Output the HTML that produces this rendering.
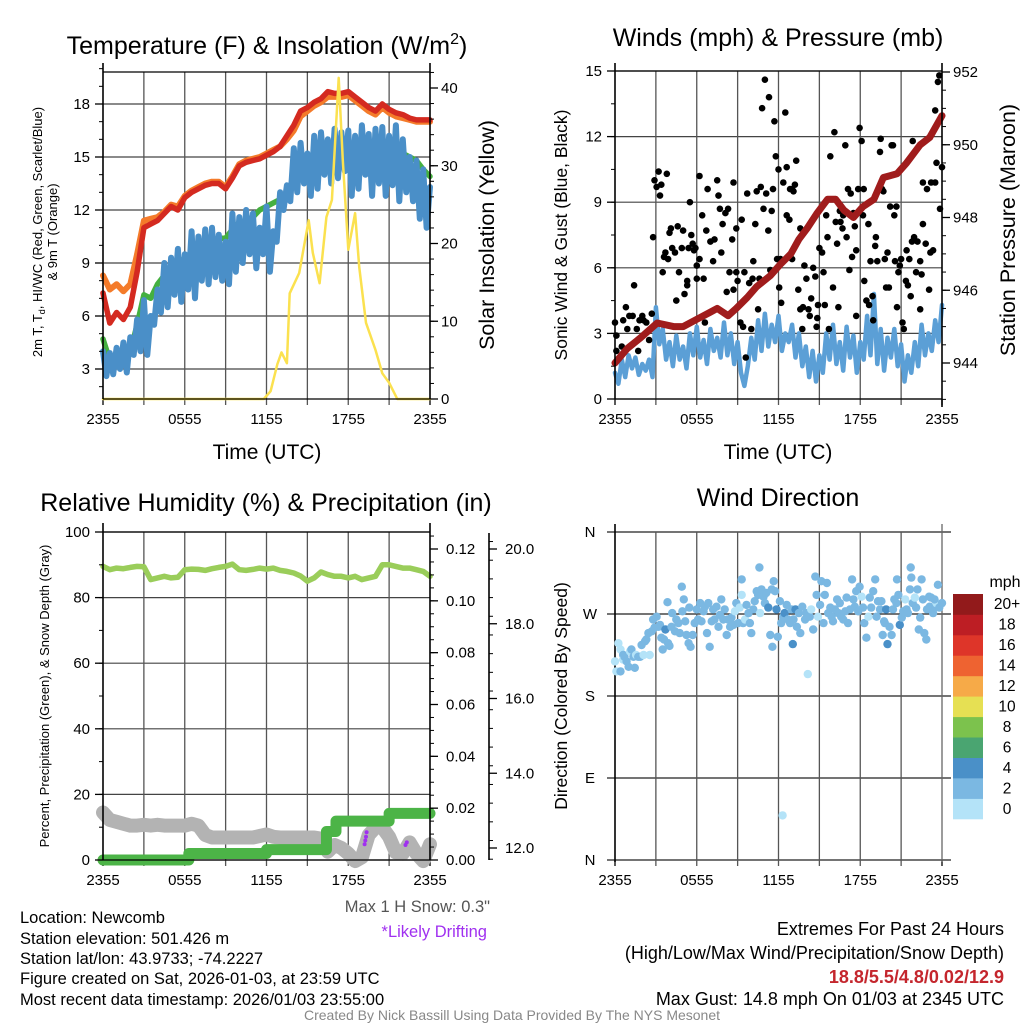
<!DOCTYPE html>
<html><head><meta charset="utf-8">
<style>
html,body{margin:0;padding:0;background:#fff;}
svg{display:block;font-family:"Liberation Sans",Arial,sans-serif;}
</style></head>
<body>
<svg id="fig" width="1024" height="1024" viewBox="0 0 1024 1024" xmlns="http://www.w3.org/2000/svg">
<rect x="0" y="0" width="1024" height="1024" fill="#fff"/>
<text x="267" y="54" font-size="25" text-anchor="middle">Temperature (F) &amp; Insolation (W/m<tspan font-size="16" dy="-10">2</tspan><tspan dy="10">)</tspan></text>
<text x="778" y="46" font-size="25" text-anchor="middle">Winds (mph) &amp; Pressure (mb)</text>
<text x="266" y="511" font-size="25" text-anchor="middle">Relative Humidity (%) &amp; Precipitation (in)</text>
<text x="778" y="506" font-size="25" text-anchor="middle">Wind Direction</text>
<text x="267" y="459" font-size="21" text-anchor="middle">Time (UTC)</text>
<text x="778" y="459" font-size="21" text-anchor="middle">Time (UTC)</text>
<text transform="translate(42,232) rotate(-90)" font-size="13" text-anchor="middle">2m T, T<tspan font-size="9" dy="3">d</tspan><tspan dy="-3">, HI/WC (Red, Green, Scarlet/Blue)</tspan></text>
<text transform="translate(57,232) rotate(-90)" font-size="13" text-anchor="middle">&amp; 9m T (Orange)</text>
<text transform="translate(494,235) rotate(-90)" font-size="21.5" text-anchor="middle">Solar Insolation (Yellow)</text>
<text transform="translate(567,235) rotate(-90)" font-size="17.5" text-anchor="middle">Sonic Wind &amp; Gust (Blue, Black)</text>
<text transform="translate(1015,230) rotate(-90)" font-size="21.5" text-anchor="middle">Station Pressure (Maroon)</text>
<text transform="translate(49,696) rotate(-90)" font-size="13" text-anchor="middle">Percent, Precipitation (Green), &amp; Snow Depth (Gray)</text>
<text transform="translate(567,696) rotate(-90)" font-size="17.5" text-anchor="middle">Direction (Colored By Speed)</text>
<text x="1005" y="587" font-size="16" text-anchor="middle">mph</text>
<text x="490" y="912" font-size="16.5" text-anchor="end" fill="#555">Max 1 H Snow: 0.3"</text>
<text x="487" y="937" font-size="16.5" text-anchor="end" fill="#a030f0">*Likely Drifting</text>
<g font-size="16.5">
<text x="20" y="923">Location: Newcomb</text>
<text x="20" y="944">Station elevation: 501.426 m</text>
<text x="20" y="964">Station lat/lon: 43.9733; -74.2227</text>
<text x="20" y="984">Figure created on Sat, 2026-01-03, at 23:59 UTC</text>
<text x="20" y="1005">Most recent data timestamp: 2026/01/03 23:55:00</text>
</g>
<g font-size="18" text-anchor="end">
<text x="1004" y="935">Extremes For Past 24 Hours</text>
<text x="1004" y="959">(High/Low/Max Wind/Precipitation/Snow Depth)</text>
<text x="1004" y="983" fill="#c4262d" font-weight="bold">18.8/5.5/4.8/0.02/12.9</text>
<text x="1004" y="1005">Max Gust: 14.8 mph On 01/03 at 2345 UTC</text>
</g>
<text x="512" y="1020" font-size="14" text-anchor="middle" fill="#888">Created By Nick Bassill Using Data Provided By The NYS Mesonet</text>
</svg>
<script>
// ---------- Temperature panel data ----------
const tempT = [0,0.5,1,1.5,2,2.5,3,3.5,4,4.5,5,5.5,6,6.5,7,7.5,8,8.5,9,9.5,10,10.5,11,11.5,12,12.5,13,13.5,14,14.5,15,15.5,16,16.5,17,17.5,18,18.5,19,19.5,20,20.5,21,21.5,22,22.5,23,23.5,24];
const tempRed = [7.3,5.6,6.2,5.8,6.5,8.5,11.0,11.2,11.4,11.8,12.2,12.0,12.7,13.0,13.2,13.4,13.5,13.5,13.2,13.8,14.5,14.7,14.8,14.9,15.1,15.3,15.6,16.2,16.8,17.6,17.8,18.1,18.3,18.7,18.6,18.6,18.7,18.4,18.1,17.8,17.6,18.0,17.7,17.5,17.4,17.2,17.1,17.1,17.1];
const temp9m = [8.3,7.5,7.8,7.4,7.8,9.5,11.4,11.5,11.6,11.9,12.3,12.2,12.8,13.1,13.3,13.5,13.6,13.6,13.3,13.9,14.6,14.8,14.9,15.0,15.2,15.4,15.6,16.0,16.5,17.3,17.6,17.9,18.1,18.4,18.4,18.4,18.5,18.2,17.9,17.6,17.4,17.8,17.5,17.3,17.2,17.1,17.0,17.0,17.0];
const tempDew = [4.7,3.5,3.2,3.6,4.0,5.5,7.2,7.0,7.8,8.3,8.5,8.9,9.3,9.6,9.9,10.2,10.3,10.4,10.4,10.9,11.3,11.4,11.6,12.0,12.2,12.4,12.6,12.9,13.5,13.9,14.3,14.7,15.0,15.3,15.3,15.2,15.3,15.4,15.4,15.6,15.6,15.6,15.5,15.4,15.2,15.0,14.8,14.3,13.9];
const windChill = [4.0,2.6,3.9,2.7,4.2,3.0,4.5,2.8,4.8,3.8,5.8,4.0,6.9,3.8,6.0,5.5,7.5,6.2,9.0,6.5,9.3,7.2,9.8,6.8,9.5,7.5,10.8,7.0,10.5,8.0,10.9,7.8,11.0,8.2,10.6,8.0,10.2,7.8,11.8,8.5,11.6,9.0,12.0,9.5,11.8,8.7,11.0,9.5,12.2,8.5,10.8,10.2,13.0,12.0,13.4,12.5,15.5,13.0,15.8,13.5,15.2,12.8,16.2,13.2,16.4,14.0,16.0,13.5,16.6,13.8,16.4,14.2,16.5,12.8,16.2,13.2,16.8,14.0,16.3,12.8,16.6,13.5,16.7,12.8,16.2,13.4,16.8,12.5,16.0,13.0,15.0,12.5,14.8,11.5,14.3,11.0,13.3];
const solarT = [0,11.8,12.3,12.8,13.1,13.5,13.7,14.4,15.1,15.4,15.9,16.4,16.8,17.3,17.6,18.0,18.5,18.8,19.3,20.0,20.5,21.0,21.6,24];
const solarV = [0,0,1.0,4.5,6.0,4.6,13.6,16.2,23.0,18.8,14.9,23.4,25.6,41.3,30.7,19.2,23.9,17.0,9.8,6.3,3.3,2.1,0,0];
const tempTicks = [3,6,9,12,15,18];
const solarTicks = [0,10,20,30,40];
const timeLabels = ['2355','0555','1155','1755','2355'];
// ---------- Wind panel data ----------
const sonicWind = [1.2,0.7,1.8,1.0,2.0,1.4,1.9,1.1,1.6,1.3,1.8,1.0,4.2,2.5,3.2,1.8,2.6,1.5,2.9,1.8,2.4,1.4,3.0,2.0,3.3,1.9,2.7,1.6,3.2,2.2,2.8,1.9,3.5,2.0,3.0,1.6,2.6,1.2,0.6,1.5,2.8,1.8,3.6,2.2,3.9,2.4,3.4,2.6,3.8,2.2,3.0,2.6,3.4,1.9,3.0,1.5,2.4,1.0,2.2,0.8,2.0,1.2,3.0,1.8,3.4,1.6,2.6,1.3,3.3,1.9,2.9,1.2,2.6,1.8,3.8,2.0,4.8,1.6,3.2,1.3,2.8,1.9,3.2,1.5,2.5,0.8,2.0,1.2,2.6,1.5,3.4,2.0,3.0,2.2,3.6,2.6,4.3];
const pressT = [0,0.9,1.9,3.1,4.3,5,6,7,7.5,8.3,8.9,9.7,10.4,11.4,12.1,12.9,13.5,14.1,14.8,15.6,16.2,16.8,17.5,18.2,19,19.7,20.7,21.4,22.4,23.1,24];
const pressV = [944.0,944.4,944.7,945.1,945.0,945.0,945.2,945.4,945.5,945.3,945.5,945.8,946.1,946.4,946.7,947.0,947.4,947.7,948.1,948.5,948.5,948.2,948.0,948.3,948.5,949.1,949.2,949.5,950.0,950.2,950.8];
const gustT = [0,0.1,0.1,0.5,0.6,0.8,0.9,1.05,1.3,1.4,1.6,1.7,1.8,2.0,2.1,2.3,2.5,2.7,2.8,2.9,3.05,3.2,3.3,3.4,3.5,3.6,3.7,3.8,3.9,4.0,4.1,4.2,4.4,4.5,4.6,4.7,4.9,5.0,5.1,5.3,5.3,5.4,5.5,5.6,5.7,5.8,5.9,6.0,6.0,6.2,6.2,6.4,6.5,6.6,6.7,6.8,7.0,7.2,7.3,7.5,7.6,7.7,7.8,7.9,8.1,8.2,8.3,8.4,8.6,8.7,8.7,8.9,8.9,9.0,9.2,9.3,9.4,9.5,9.6,9.7,9.85,10.0,10.1,10.15,10.3,10.4,10.5,10.6,10.7,10.8,10.9,11.0,11.1,11.25,11.3,11.4,11.5,11.6,11.7,11.8,11.9,12.0,12.05,12.15,12.2,12.35,12.5,12.6,12.6,12.8,12.85,13.0,13.0,13.1,13.2,13.3,13.45,13.6,13.6,13.75,13.8,13.9,14.05,14.2,14.3,14.4,14.55,14.7,14.8,14.85,14.9,15.0,15.2,15.3,15.4,15.5,15.6,15.7,15.8,16.0,16.1,16.2,16.3,16.4,16.5,16.55,16.7,16.75,16.9,17.0,17.1,17.2,17.3,17.4,17.5,17.6,17.7,17.7,17.85,17.95,18.1,18.2,18.25,18.3,18.45,18.6,18.65,18.75,18.9,18.95,19.1,19.15,19.25,19.45,19.5,19.6,19.7,19.8,19.9,20.0,20.1,20.2,20.3,20.4,20.5,20.55,20.65,20.7,20.8,20.9,21.0,21.1,21.2,21.35,21.4,21.5,21.6,21.7,21.8,21.85,21.95,22.1,22.2,22.4,22.4,22.5,22.6,22.6,22.8,22.9,23.05,23.15,23.2,23.35,23.5,23.6,23.7,23.8,23.85,24.0,23.5];
const gustV = [3.5,2.2,2.9,2.4,3.6,4.2,3.2,3.8,3.8,5.2,3.2,2.2,3.6,3.8,3.6,3.5,2.7,3.9,7.4,10.0,9.7,10.4,9.3,9.8,5.8,6.5,6.7,10.3,6.4,7.6,7.8,6.9,6.7,4.5,7.9,5.8,6.9,7.7,4.8,5.4,5.2,6.9,9.0,7.5,7.1,6.8,6.9,6.1,5.5,6.4,10.2,8.4,5.5,3.5,7.7,9.6,7.2,6.3,7.3,10.0,9.3,8.7,6.7,8.0,8.5,4.9,8.7,5.8,7.3,5.0,9.9,7.8,5.8,5.4,3.5,8.2,3.3,5.8,1.9,9.4,5.3,3.2,5.5,6.3,8.0,9.5,4.1,5.5,9.7,13.3,8.7,14.6,9.4,7.7,13.8,5.9,8.6,9.6,12.7,11.1,6.4,10.5,5.1,6.4,4.4,9.9,13.1,8.4,10.6,8.2,9.6,6.4,9.6,9.5,9.8,10.9,5.0,7.8,4.1,3.2,4.2,6.1,5.5,4.1,3.8,4.6,6.0,5.6,3.3,3.7,4.3,6.9,6.7,5.8,4.3,8.4,7.4,3.2,11.1,5.1,12.2,8.1,7.1,4.2,8.6,8.1,7.8,8.4,11.6,7.4,9.6,5.9,9.4,6.5,8.5,7.9,3.8,6.8,9.6,12.4,11.8,8.4,9.6,5.4,4.5,8.0,4.3,6.3,4.7,3.6,7.0,7.4,6.3,11.3,11.9,9.6,9.5,6.4,5.1,6.7,5.1,8.8,11.6,11.6,8.4,6.3,8.8,4.2,5.8,6.1,6.4,3.5,3.2,5.4,6.8,5.2,6.4,4.7,7.2,11.8,7.4,5.8,7.2,4.1,6.3,5.7,8.0,9.9,7.1,9.6,5.0,6.7,9.9,6.8,13.2,10.8,14.5,14.8,8.7,10.6,9.9];
const windTicks = [0,3,6,9,12,15];
const pressTicks = [944,946,948,950,952];
// ---------- RH panel data ----------
const rhT = tempT;
const rhV = [89.5,88.5,89,88.8,89.2,89.5,89.4,85.5,86,86.5,86,86.2,88.5,88.7,88.6,88.3,88.8,89.2,89.5,90.2,88.5,88.3,88.6,89,88.7,89,88.3,88,87.5,86.6,85,86,87.8,87,86.5,86.5,86,86.5,85.5,86,86.5,90,90,89.5,89,89,88.5,88,86.5];
const precipT = [0,6.3,12,16.4,17.1,21,24];
const precipV = [0,0.0025,0.004,0.011,0.015,0.018,0.018];
const snowV = [12.95,12.75,12.7,12.65,12.6,12.6,12.62,12.6,12.62,12.6,12.6,12.6,12.6,12.65,12.6,12.35,12.28,12.28,12.28,12.28,12.28,12.28,12.28,12.32,12.36,12.3,12.28,12.28,12.28,12.28,12.28,12.28,12.25,11.9,12.08,12.0,11.85,11.65,11.75,12.35,12.55,12.55,12.3,11.88,11.85,12.15,11.85,11.65,12.1];
const driftT = [19.2,19.25,19.3,19.35,22.2,22.3];
const driftV = [12.1,12.2,12.3,12.42,12.08,12.15];
const rhTicks = [0,20,40,60,80,100];
const precipTicks = [0,0.02,0.04,0.06,0.08,0.10,0.12];
const snowTicks = [12,14,16,18,20];
// ---------- Direction panel data ----------
const dirT = [0,0.1,0.25,0.4,0.4,0.6,0.6,0.7,0.85,1.0,1.1,1.2,1.35,1.45,1.55,1.7,1.85,1.95,2.1,2.2,2.3,2.45,2.55,2.7,2.8,2.9,3.05,3.2,3.3,3.4,3.5,3.6,3.7,3.85,3.9,4.0,4.15,4.2,4.4,4.5,4.65,4.75,4.9,4.95,5.05,5.15,5.25,5.4,5.45,5.55,5.7,5.85,6.0,6.1,6.25,6.35,6.5,6.6,6.75,6.85,6.95,7.1,7.2,7.3,7.45,7.6,7.7,7.8,7.95,8.05,8.2,8.3,8.45,8.55,8.7,8.8,8.9,9.05,9.15,9.3,9.3,9.4,9.55,9.65,9.8,9.9,10.0,10.15,10.25,10.4,10.5,10.6,10.65,10.75,10.9,11.0,11.1,11.25,11.4,11.5,11.55,11.65,11.75,11.85,11.95,12.1,12.2,12.3,12.35,12.45,12.6,12.7,12.85,12.95,13.05,13.1,13.25,13.35,13.5,13.6,13.75,13.95,14.05,14.15,14.3,14.4,14.55,14.7,14.8,14.9,15.05,15.15,15.3,15.4,15.55,15.65,15.8,15.9,16.0,16.15,16.3,16.4,16.5,16.6,16.75,16.9,17.0,17.1,17.25,17.4,17.5,17.6,17.7,17.85,17.95,18.1,18.2,18.3,18.45,18.6,18.7,18.8,18.95,19.1,19.2,19.3,19.45,19.55,19.65,19.75,19.8,19.9,20.0,20.15,20.3,20.4,20.5,20.65,20.7,20.8,20.9,21.05,21.15,21.3,21.4,21.5,21.65,21.7,21.75,21.85,22.0,22.1,22.2,22.3,22.4,22.5,22.6,22.7,22.85,22.9,23.05,23.1,23.2,23.35,23.5,23.6,23.7,23.8,24.0,23.45];
const dirV = [218,207,238,207,231,225,220,223,218,212,229,231,223,211,225,223,223,236,225,240,242,249,225,251,264,255,267,256,258,244,231,242,253,283,238,235,256,271,251,264,260,249,300,273,286,262,247,238,277,234,247,260,275,264,282,262,273,278,249,282,234,262,275,264,278,256,269,286,264,275,247,264,256,266,258,273,282,260,277,308,291,260,264,280,271,260,249,275,284,295,291,321,271,297,289,282,293,277,247,297,234,306,295,275,245,284,260,49,267,271,280,264,260,275,237,264,275,256,271,249,278,264,271,204,267,275,253,311,291,267,280,306,260,291,304,271,277,267,262,275,286,271,282,267,264,273,288,260,275,308,286,278,295,273,300,289,277,260,244,267,288,277,295,308,267,284,275,284,247,262,260,275,237,256,247,275,286,282,308,291,258,266,273,286,275,271,297,321,310,282,288,277,297,253,266,308,286,249,242,275,289,278,288,271,278,282,302,277,282,286];
const dirSpeed = [1,1,1,2.5,1,2.5,1,2.5,2.5,2.5,1,2.5,2.5,2.5,1,2.5,2.5,2.5,1,2.5,2.5,2.5,1,2.5,2.5,2.5,2.5,2.5,2.5,2.5,2.5,2.5,4.5,2.5,2.5,2.5,2.5,2.5,2.5,2.5,2.5,2.5,2.5,2.5,2.5,2.5,2.5,2.5,2.5,2.5,2.5,2.5,2.5,2.5,2.5,2.5,2.5,2.5,2.5,2.5,2.5,2.5,2.5,2.5,2.5,2.5,2.5,2.5,2.5,2.5,2.5,2.5,2.5,2.5,2.5,1,2.5,2.5,1,2.5,1,2.5,1,2.5,2.5,2.5,2.5,2.5,2.5,2.5,2.5,2.5,1,2.5,2.5,2.5,2.5,4.5,2.5,2.5,2.5,2.5,2.5,4.5,2.5,2.5,2.5,1,2.5,4.5,2.5,2.5,2.5,2.5,4.5,2.5,4.5,2.5,2.5,2.5,2.5,2.5,2.5,1,2.5,1,2.5,2.5,2.5,1,2.5,2.5,2.5,2.5,2.5,2.5,2.5,2.5,2.5,2.5,2.5,2.5,2.5,2.5,2.5,2.5,2.5,2.5,2.5,2.5,2.5,2.5,2.5,2.5,2.5,1,2.5,2.5,2.5,1,2.5,2.5,2.5,2.5,2.5,2.5,2.5,2.5,2.5,2.5,2.5,4.5,4.5,2.5,2.5,2.5,2.5,2.5,2.5,2.5,4.5,2.5,2.5,1,2.5,2.5,2.5,2.5,2.5,2.5,1,2.5,2.5,2.5,2.5,2.5,2.5,2.5,2.5,2.5,2.5,2.5,2.5,2.5,2.5,1,2.5,2.5,2.5,2.5,1,4.5,2.5,4.5,2.5,4.5];
const dirTicks = [0,90,180,270,360];
const dirLabels = ['N','E','S','W','N'];
const cbarLabels = ['0','2','4','6','8','10','12','14','16','18','20+'];
const cbarColors = ['#b4e3f8','#7bb8e2','#4a90c8','#4aa571','#7cc24d','#e6e053','#f6aa48','#ee6331','#de3529','#bd1e24','#921a1b'];

// ---------- helpers ----------
const NS = 'http://www.w3.org/2000/svg';
const svg = document.getElementById('fig');
function mk(tag, attrs, parent) {
  const el = document.createElementNS(NS, tag);
  for (const k in attrs) el.setAttribute(k, attrs[k]);
  (parent || svg).appendChild(el);
  return el;
}
function label(el, name) {
  
  
  return el;
}
function linScale(d0, d1, r0, r1) { return v => r0 + (v - d0) * (r1 - r0) / (d1 - d0); }
function pathFrom(xs, ys) { return xs.map((x, i) => (i ? 'L' : 'M') + x.toFixed(1) + ',' + ys[i].toFixed(1)).join(''); }
function stepPath(xs, ys) {
  let d = 'M' + xs[0] + ',' + ys[0];
  for (let i = 1; i < xs.length; i++) d += 'L' + xs[i] + ',' + ys[i - 1] + 'L' + xs[i] + ',' + ys[i];
  return d;
}

function panelFrame(p, key) {
  const g = mk('g', {});
  label(g, key + '-frame');
  for (let i = 1; i < 8; i++) {
    const x = p.x0 + i * (p.x1 - p.x0) / 8;
    const gl = mk('line', {x1: x, x2: x, y1: p.y0, y2: p.y1 + 6, stroke: '#555', 'stroke-width': 1.3}, g);
    label(gl, key + '-vertical-gridline');
  }
  const xt = mk('line', {x1: p.x0, x2: p.x0, y1: p.y1, y2: p.y1 + 6, stroke: '#000', 'stroke-width': 1.3}, g);
  label(xt, key + '-x-tick');
  const xt2 = mk('line', {x1: p.x1, x2: p.x1, y1: p.y1, y2: p.y1 + 6, stroke: '#000', 'stroke-width': 1.3}, g);
  label(xt2, key + '-x-tick');
  timeLabels.forEach((s, i) => {
    const t = mk('text', {x: p.x0 + i * (p.x1 - p.x0) / 4, y: p.y1 + 25, 'font-size': 15, 'text-anchor': 'middle'}, g);
    t.textContent = s;
    label(t, key + '-x-tick-label');
  });
  return g;
}
function hGrid(p, key, ticks, sc) {
  ticks.forEach(v => {
    const y = sc(v);
    if (y < p.y0 - 1 || y > p.y1 + 1) return;
    const l = mk('line', {x1: p.x0, x2: p.x1, y1: y, y2: y, stroke: '#444', 'stroke-width': 1.2});
    label(l, key + '-horizontal-gridline');
  });
}
function yAxis(p, key, x, side, ticks, fmt, sc, minorStep, lo, hi, ext, ytop, ybot) {
  const g = mk('g', {});
  label(g, key);
  const dir = side === 'left' ? -1 : 1;
  const ax = mk('line', {x1: x, x2: x, y1: ytop, y2: ybot, stroke: '#000', 'stroke-width': 1.6}, g);
  label(ax, key + '-line');
  if (minorStep) {
    for (let v = lo; v <= hi + 1e-9; v += minorStep) {
      const y = sc(v);
      if (y < ytop || y > ybot) continue;
      const m = mk('line', {x1: x, x2: x + dir * 4, y1: y, y2: y, stroke: '#000', 'stroke-width': 1}, g);
      label(m, key + '-minor-tick');
    }
  }
  ticks.forEach(v => {
    const y = sc(v);
    const t = mk('line', {x1: x, x2: x + dir * 8, y1: y, y2: y, stroke: '#000', 'stroke-width': 1.3}, g);
    label(t, key + '-tick');
    const tx = mk('text', {x: x + dir * (ext || 13), y: y + 5, 'font-size': 15, 'text-anchor': side === 'left' ? 'end' : 'start'}, g);
    tx.textContent = fmt(v);
    label(tx, key + '-tick-label');
  });
}
function line(d, color, w, name, extra) {
  const el = mk('path', Object.assign({d: d, fill: 'none', stroke: color, 'stroke-width': w, 'stroke-linejoin': 'round', 'stroke-linecap': 'round'}, extra || {}));
  label(el, name);
  return el;
}
function idxTimes(arr) { return arr.map((_, i) => i * 24 / (arr.length - 1)); }

// ---------- Panel 1: temperature ----------
const p1 = {x0: 103, x1: 430, y0: 72, y1: 399};
const x1s = linScale(0, 24, p1.x0, p1.x1);
const yT = linScale(3, 18, 369, 104);
const yS = linScale(0, 40, 399, 88);
hGrid(p1, 'temp', tempTicks, yT);
panelFrame(p1, 'temp');
line(pathFrom(tempT.map(x1s), temp9m.map(yT)), '#f47b2a', 6, 'nine-meter-temp-line');
line(pathFrom(tempT.map(x1s), tempRed.map(yT)), '#d42a20', 5.5, 'two-meter-temp-line');
line(pathFrom(tempT.map(x1s), tempDew.map(yT)), '#44b040', 5.5, 'dewpoint-line');
line(pathFrom(idxTimes(windChill).map(x1s), windChill.map(yT)), '#4a8fc8', 6, 'wind-chill-line');
line(pathFrom(solarT.map(x1s), solarV.map(yS)), '#fbe14f', 2.5, 'solar-insolation-line');
const top1 = mk('line', {x1: p1.x0, x2: p1.x1, y1: p1.y0, y2: p1.y0, stroke: '#000', 'stroke-width': 1.3});
label(top1, 'temp-top-border');
const bot1 = mk('line', {x1: p1.x0, x2: p1.x1, y1: p1.y1, y2: p1.y1, stroke: '#000', 'stroke-width': 1.3});
label(bot1, 'temp-bottom-border');
yAxis(p1, 'temp-left-axis', p1.x0, 'left', tempTicks, v => v, yT, 1, 1, 20, 13, 63, 399);
yAxis(p1, 'solar-right-axis', p1.x1, 'right', solarTicks, v => v, yS, 2, 0, 42, 11, 63, 399);

// ---------- Panel 2: winds ----------
const p2 = {x0: 615, x1: 942, y0: 71, y1: 399};
const x2s = linScale(0, 24, p2.x0, p2.x1);
const yW = linScale(0, 15, 399, 71);
const yP = linScale(944, 952, 363, 72);
hGrid(p2, 'wind', windTicks, yW);
panelFrame(p2, 'wind');
line(pathFrom(idxTimes(sonicWind).map(x2s), sonicWind.map(yW)), '#5b9fd6', 4.5, 'sonic-wind-line');
const gg = mk('g', {});
label(gg, 'gust-points');
gustT.forEach((t, i) => {
  const c = mk('circle', {cx: x2s(t).toFixed(1), cy: yW(gustV[i]).toFixed(1), r: 3.3, fill: '#000'}, gg);
  
  
});
line(pathFrom(pressT.map(x2s), pressV.map(yP)), '#a01c1c', 7, 'pressure-line');
const top2 = mk('line', {x1: p2.x0, x2: p2.x1, y1: p2.y0, y2: p2.y0, stroke: '#000', 'stroke-width': 1.3});
label(top2, 'wind-top-border');
const bot2 = mk('line', {x1: p2.x0, x2: p2.x1, y1: p2.y1, y2: p2.y1, stroke: '#000', 'stroke-width': 1.3});
label(bot2, 'wind-bottom-border');
yAxis(p2, 'wind-left-axis', p2.x0, 'left', windTicks, v => v, yW, 1.5, 0, 15.3, 13, 63, 399);
yAxis(p2, 'pressure-right-axis', p2.x1, 'right', pressTicks, v => v, yP, 0.5, 943, 952.2, 11, 63, 407);

// ---------- Panel 3: RH ----------
const p3 = {x0: 103, x1: 430, y0: 532, y1: 860};
const x3s = linScale(0, 24, p3.x0, p3.x1);
const yR = linScale(0, 100, 860, 532);
const yPr = linScale(0, 0.12, 860, 549);
const ySn = linScale(12, 20, 848, 549);
hGrid(p3, 'rh', rhTicks, yR);
panelFrame(p3, 'rh');
line(pathFrom(idxTimes(snowV).map(x3s), snowV.map(ySn)), '#b3b3b3', 14, 'snow-depth-line');
line(stepPath(precipT.map(x3s), precipV.map(yPr)), '#4cb447', 11, 'precipitation-line');
line(pathFrom(rhT.map(x3s), rhV.map(yR)), '#9acd5a', 5.5, 'relative-humidity-line');
const dg = mk('g', {});
label(dg, 'drifting-points');
driftT.forEach((t, i) => {
  const c = mk('circle', {cx: x3s(t).toFixed(1), cy: ySn(driftV[i]).toFixed(1), r: 2, fill: '#a030f0'}, dg);
  
  
});
const top3 = mk('line', {x1: p3.x0, x2: p3.x1, y1: p3.y0, y2: p3.y0, stroke: '#000', 'stroke-width': 1.3});
label(top3, 'rh-top-border');
const bot3 = mk('line', {x1: p3.x0, x2: p3.x1, y1: p3.y1, y2: p3.y1, stroke: '#000', 'stroke-width': 1.3});
label(bot3, 'rh-bottom-border');
yAxis(p3, 'rh-left-axis', p3.x0, 'left', rhTicks, v => v, yR, 10, 0, 100, 13, 523, 860);
yAxis(p3, 'precip-right-axis', p3.x1, 'right', precipTicks, v => v.toFixed(2), yPr, 0.005, 0, 0.125, 16, 523, 860);
yAxis(p3, 'snow-axis', 489, 'right', snowTicks, v => v.toFixed(1), ySn, 0.5, 11.7, 20.3, 16, 533, 860);

// ---------- Panel 4: direction ----------
const p4 = {x0: 615, x1: 942, y0: 532, y1: 860};
const x4s = linScale(0, 24, p4.x0, p4.x1);
const yD = linScale(0, 360, 860, 532);
dirTicks.forEach(v => {
  const y = yD(v);
  const l = mk('line', {x1: p4.x0 - 8, x2: p4.x1 + 9, y1: y, y2: y, stroke: '#222', 'stroke-width': 1.3});
  label(l, 'direction-horizontal-gridline');
});
panelFrame(p4, 'direction');
const lax = mk('line', {x1: p4.x0, x2: p4.x0, y1: 524, y2: 862, stroke: '#000', 'stroke-width': 1.6});
label(lax, 'direction-left-axis-line');
const rax = mk('line', {x1: p4.x1, x2: p4.x1, y1: 524, y2: 862, stroke: '#666', 'stroke-width': 1.3});
label(rax, 'direction-right-border');
dirTicks.forEach((v, i) => {
  const t = mk('text', {x: 590, y: yD(v) + 5, 'font-size': 15, 'text-anchor': 'middle'});
  t.textContent = dirLabels[i];
  label(t, 'direction-tick-label');
});
const dd = mk('g', {});
label(dd, 'direction-points');
dirT.forEach((t, i) => {
  const cls = Math.min(10, Math.floor(dirSpeed[i] / 2));
  const c = mk('circle', {cx: x4s(t).toFixed(1), cy: yD(dirV[i]).toFixed(1), r: 4.2, fill: cbarColors[cls]}, dd);
  
  
});
// colorbar
const cb = mk('g', {});
label(cb, 'speed-colorbar');
const boxH = (819 - 594) / cbarColors.length;
cbarColors.forEach((col, i) => {
  const y = 819 - (i + 1) * boxH;
  const r = mk('rect', {x: 953, y: y.toFixed(1), width: 30, height: (boxH + 0.3).toFixed(1), fill: col}, cb);
  
  
  const t = mk('text', {x: 1007, y: (y + boxH / 2 + 5).toFixed(1), 'font-size': 15.5, 'text-anchor': 'middle'}, cb);
  t.textContent = cbarLabels[i];
  
  
});
</script>
</body></html>
